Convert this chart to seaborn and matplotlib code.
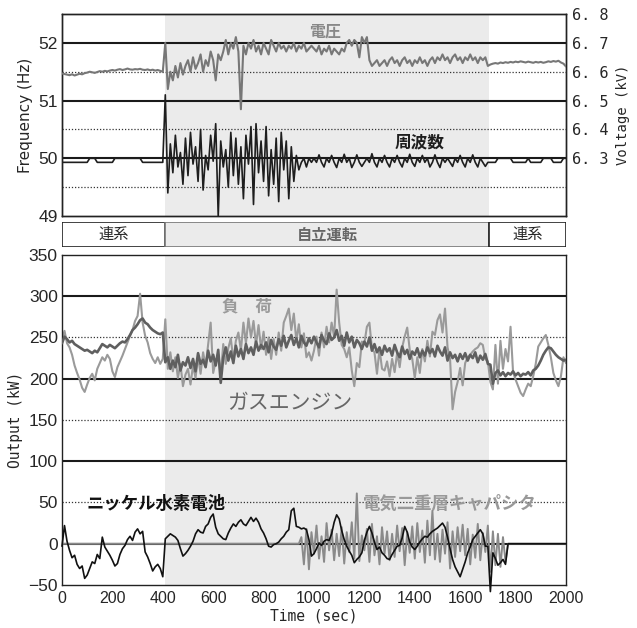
"""
自立運転試験の周波数・電圧・出力の推移
"""
import numpy as np
import matplotlib
matplotlib.use('Agg')
import matplotlib.pyplot as plt
import seaborn as sns
from matplotlib.patches import Rectangle

sns.set_style("white")
plt.rcParams['font.family'] = ['Noto Sans CJK JP', 'DejaVu Sans']

# 時刻 (10秒刻み)
time_sec = np.arange(0, 2001, 10)

# 自立運転の期間
island_start = 410
island_end = 1695

# 電圧 (kV)
voltage_kv = [
    6.594, 6.592, 6.590, 6.588, 6.591, 6.587, 6.590, 6.593, 6.591, 6.595,
    6.597, 6.600, 6.598, 6.596, 6.599, 6.602, 6.600, 6.603, 6.601, 6.604,
    6.606, 6.604, 6.607, 6.609, 6.606, 6.608, 6.611, 6.608, 6.607, 6.609,
    6.608, 6.610, 6.607, 6.606, 6.608, 6.605, 6.607, 6.604, 6.606, 6.603,
    6.600, 6.700, 6.540, 6.600, 6.570, 6.620, 6.580, 6.630, 6.590, 6.620,
    6.640, 6.600, 6.650, 6.610, 6.630, 6.660, 6.600, 6.640, 6.620, 6.670,
    6.640, 6.570, 6.660, 6.640, 6.670, 6.710, 6.660, 6.700, 6.680, 6.720,
    6.670, 6.470, 6.690, 6.660, 6.700, 6.680, 6.710, 6.670, 6.690, 6.660,
    6.700, 6.680, 6.660, 6.710, 6.690, 6.670, 6.700, 6.680, 6.690, 6.670,
    6.690, 6.680, 6.700, 6.670, 6.690, 6.680, 6.700, 6.670, 6.680, 6.690,
    6.680, 6.670, 6.690, 6.660, 6.680, 6.670, 6.690, 6.660, 6.680, 6.670,
    6.660, 6.680, 6.670, 6.700, 6.710, 6.690, 6.710, 6.700, 6.650, 6.720,
    6.700, 6.720, 6.640, 6.620, 6.630, 6.640, 6.620, 6.630, 6.640, 6.620,
    6.640, 6.650, 6.630, 6.640, 6.620, 6.640, 6.650, 6.630, 6.640, 6.620,
    6.640, 6.630, 6.650, 6.630, 6.640, 6.620, 6.640, 6.650, 6.630, 6.650,
    6.640, 6.660, 6.640, 6.650, 6.630, 6.650, 6.660, 6.640, 6.650, 6.630,
    6.650, 6.640, 6.660, 6.640, 6.650, 6.630, 6.650, 6.640, 6.650, 6.620,
    6.625, 6.628, 6.630, 6.628, 6.632, 6.630, 6.633, 6.631, 6.634, 6.632,
    6.635, 6.633, 6.636, 6.634, 6.632, 6.635, 6.633, 6.631, 6.634, 6.632,
    6.634, 6.631, 6.633, 6.636, 6.634, 6.637, 6.635, 6.638, 6.632, 6.628,
    6.618,
]

# 周波数 (Hz)
frequency_hz = [
    49.93, 49.93, 49.93, 49.93, 49.93, 49.93, 49.93, 49.93, 49.93, 49.93,
    49.93, 50.00, 50.00, 50.00, 49.93, 49.93, 49.93, 49.93, 49.93, 49.93,
    49.93, 50.00, 50.00, 50.00, 50.00, 50.00, 50.00, 50.00, 50.00, 50.00,
    50.00, 50.00, 49.93, 49.93, 49.93, 49.93, 49.93, 49.93, 49.93, 49.93,
    49.93, 51.10, 49.40, 50.25, 49.75, 50.40, 49.85, 50.10, 49.55, 50.35,
    49.70, 50.45, 49.90, 50.20, 49.60, 50.50, 49.45, 50.05, 49.80, 50.40,
    49.95, 50.60, 49.00, 50.30, 49.85, 50.15, 49.50, 50.45, 49.70, 50.35,
    49.55, 50.20, 49.30, 50.40, 49.90, 50.55, 49.20, 50.60, 49.75, 50.30,
    49.60, 50.55, 49.35, 50.15, 49.55, 50.35, 49.25, 50.45, 49.80, 50.30,
    49.30, 50.20, 49.60, 50.05, 49.80, 49.93, 50.00, 49.85, 50.00, 49.93,
    50.00, 49.93, 50.06, 49.93, 49.85, 50.00, 49.93, 50.05, 49.93, 49.84,
    50.00, 49.93, 50.07, 49.93, 50.00, 49.84, 49.93, 50.06, 49.93, 49.86,
    49.93, 50.00, 49.93, 50.08, 49.93, 49.85, 50.00, 49.93, 50.05, 49.93,
    49.85, 50.00, 49.93, 50.05, 49.93, 49.85, 50.00, 49.93, 50.07, 49.93,
    49.86, 50.00, 49.93, 50.05, 49.93, 50.00, 49.85, 49.93, 50.06, 49.93,
    49.84, 50.00, 49.93, 50.00, 49.93, 49.86, 50.00, 49.93, 50.05, 49.93,
    49.85, 50.00, 49.93, 50.06, 49.93, 49.85, 50.00, 49.93, 49.86, 49.93,
    49.93, 49.93, 49.93, 50.00, 50.00, 50.00, 50.00, 50.00, 50.00, 49.93,
    49.93, 49.93, 49.93, 49.93, 49.93, 50.00, 49.93, 49.93, 49.93, 49.93,
    49.93, 50.00, 50.00, 50.00, 50.00, 49.93, 49.93, 49.93, 49.93, 50.00,
    50.00,
]

# 負荷 (kW)
load_kw = [
    247, 258, 243, 238, 229, 216, 207, 199, 189, 184,
    193, 201, 206, 198, 212, 219, 226, 222, 229, 224,
    209, 202, 214, 221, 228, 236, 244, 252, 259, 270,
    276, 303, 268, 252, 244, 231, 224, 219, 226, 218,
    224, 272, 212, 232, 209, 226, 201, 218, 191, 205,
    212, 193, 216, 201, 227, 206, 232, 215, 242, 268,
    207, 221, 229, 204, 242, 218, 237, 249, 222, 246,
    256, 234, 268, 243, 273, 250, 270, 241, 265, 236,
    257, 229, 250, 224, 248, 229, 256, 234, 268, 276,
    285, 259, 279, 246, 266, 238, 255, 226, 232, 222,
    234, 251, 228, 256, 238, 263, 244, 268, 251, 308,
    268, 241, 236, 226, 238, 210, 191, 219, 214, 245,
    243, 263, 268, 236, 232, 206, 236, 212, 210, 221,
    203, 224, 208, 231, 214, 238, 251, 262, 235, 224,
    201, 226, 207, 236, 221, 246, 227, 257, 253, 271,
    278, 256, 285, 238, 224, 163, 184, 196, 213, 192,
    219, 226, 229, 233, 236, 238, 243, 241, 224, 221,
    196, 187, 241, 194, 246, 212, 236, 221, 263, 208,
    199, 191, 183, 179, 187, 194, 191, 203, 218, 239,
    244, 249, 253, 241, 226, 207, 198, 191, 203, 226,
    219,
]

# ガスエンジン出力 (kW)
gas_engine_kw = [
    243, 251, 248, 244, 246, 242, 240, 238, 236, 234,
    235, 233, 231, 234, 232, 237, 242, 240, 238, 241,
    239, 237, 240, 243, 245, 244, 248, 253, 259, 262,
    266, 271, 273, 268, 266, 262, 259, 257, 255, 254,
    256, 220, 226, 212, 222, 214, 229, 210, 220, 216,
    226, 213, 224, 209, 231, 218, 223, 214, 234, 221,
    229, 216, 235, 195, 226, 238, 222, 233, 219, 240,
    227, 236, 224, 242, 231, 238, 229, 245, 234, 241,
    236, 244, 232, 247, 239, 235, 248, 240, 252, 238,
    246, 253, 241, 249, 238, 252, 244, 240, 249, 243,
    251, 244, 238, 253, 246, 242, 255, 247, 250, 259,
    246, 252, 240, 256, 244, 251, 238, 247, 243, 236,
    245, 239, 250, 234, 242, 232, 238, 229, 240, 233,
    237, 228, 241, 232, 226, 239, 230, 235, 224, 233,
    229, 237, 226, 234, 228, 238, 231, 236, 227, 240,
    233, 228, 238, 222, 232, 225, 229, 221, 230, 224,
    231, 222, 229, 225, 232, 220, 228, 223, 230, 218,
    217, 194, 207, 210, 204, 208, 203, 207, 205, 209,
    204, 207, 203, 206, 205, 208, 204, 210, 212, 216,
    222, 229, 234, 238, 237, 233, 229, 226, 224, 222,
    223,
]

# ニッケル水素電池出力 (kW)
battery_kw = [
    -3, 22, 3, -8, -17, -14, -25, -30, -27, -42,
    -38, -30, -22, -24, -13, -18, 8, -4, -9, -14,
    -20, -27, -24, -13, -6, -2, 5, 9, 4, 14,
    18, 12, 15, -10, -16, -24, -33, -28, -25, -30,
    -40, 6, 9, 12, 10, 8, 4, -6, -15, -12,
    -8, -3, 3, 12, 17, 14, 13, 21, 24, 32,
    36, 20, 12, 9, 6, 5, 13, 19, 24, 21,
    26, 29, 24, 22, 27, 32, 27, 31, 26, 18,
    13, 6, -3, -4, -1, 0, 2, 6, 9, 14,
    17, 40, 43, 21, 20, 18, 19, 17, 5, -15,
    -12, -6, 1, -2, 3, 5, 4, 12, 26, 35,
    30, 16, 5, -3, -9, -14, -23, -19, -16, -11,
    4, 14, 21, 13, 2, -7, -4, -11, -14, -18,
    -19, -13, -8, -3, -2, 7, 21, 14, 2, -4,
    -7, -3, 2, 6, 9, 8, 12, 15, 17, 19,
    22, 25, 20, 8, -6, -19, -28, -34, -40, -31,
    -22, -11, -4, 5, 9, 13, 17, 12, -3, -3,
    -58, -11, -18, -26, -23, -19, -25, 0, 0, 0,
    0, 0, 0, 0, 0, 0, 0, 0, 0, 0,
    0, 0, 0, 0, 0, 0, 0, 0, 0, 0,
    0,
]

# 電気二重層キャパシタ出力 (kW)
capacitor_kw = [
    0, 0, 0, 0, 0, 0, 0, 0, 0, 0,
    0, 0, 0, 0, 0, 0, 0, 0, 0, 0,
    0, 0, 0, 0, 0, 0, 0, 0, 0, 0,
    0, 0, 0, 0, 0, 0, 0, 0, 0, 0,
    0, 0, 0, 0, 0, 0, 0, 0, 0, 0,
    0, 0, 0, 0, 0, 0, 0, 0, 0, 0,
    0, 0, 0, 0, 0, 0, 0, 0, 0, 0,
    0, 0, 0, 0, 0, 0, 0, 0, 0, 0,
    0, 0, 0, 0, 0, 0, 0, 0, 0, 0,
    0, 0, 0, 0, 0, 8, -25, 18, -31, 14,
    -12, 22, -18, 9, -22, 25, -8, 17, -20, 12,
    -15, 20, -24, 14, -10, 26, -18, 61, -21, 10,
    -8, 18, -22, 24, -14, 9, -25, 20, -12, 15,
    -20, 12, -16, 22, -9, 19, -26, 14, -11, 21,
    -18, 25, -10, 16, -23, 28, -14, 40, -19, 12,
    -22, 17, -12, 26, -30, 15, -16, 20, -9, 23,
    -14, 18, -25, 11, -17, 24, -20, 13, -10, 22,
    -34, 15, -26, 12, -28, 8, -22, 0, 0, 0,
    0, 0, 0, 0, 0, 0, 0, 0, 0, 0,
    0, 0, 0, 0, 0, 0, 0, 0, 0, 0,
    0,
]

freq_ticks = [49, 50, 51, 52]
volt_ticks = [6.3, 6.4, 6.5, 6.6, 6.7, 6.8]
volt_labels = ['6. 3', '6. 4', '6. 5', '6. 6', '6. 7', '6. 8']
out_ticks = [-50, 0, 50, 100, 150, 200, 250, 300, 350]
time_ticks = [0, 200, 400, 600, 800, 1000, 1200, 1400, 1600, 1800, 2000]

shade = '#ebebeb'
narrow = ['Liberation Sans Narrow', 'Liberation Sans', 'DejaVu Sans']
mono = ['DejaVu Sans Mono']
solid_kw = dict(color='#1a1a1a', lw=1.5, zorder=1)
dot_kw = dict(color='#333333', lw=0.9, ls=(0, (1, 1.5)), zorder=1)

fig = plt.figure(figsize=(6.37, 6.28), dpi=100)
left, width = 0.0973, 0.7912

# ---- 上段：周波数と電圧 ----
ax_f = fig.add_axes([left, 0.656, width, 0.3217])
ax_f.axvspan(island_start, island_end, color=shade, lw=0, zorder=0)
for y in [50, 51, 52]:
    ax_f.axhline(y, **solid_kw)
for y in [49.5, 50.5, 51.5]:
    ax_f.axhline(y, **dot_kw)
sns.lineplot(x=time_sec, y=frequency_hz, ax=ax_f, color='#1e1e1e', lw=1.2,
             estimator=None, zorder=3)
ax_f.set_xlim(0, 2000)
ax_f.set_ylim(49, 52.5)
ax_f.set_yticks(freq_ticks)
ax_f.set_yticklabels([str(v) for v in freq_ticks], family=narrow, fontsize=12.5)
ax_f.set_xticks([])
ax_f.set_xlabel('')
ax_f.set_ylabel('Frequency (Hz)', fontsize=11, family=['DejaVu Sans'], labelpad=4)
ax_f.tick_params(axis='y', length=0, pad=3)

ax_v = ax_f.twinx()
sns.lineplot(x=time_sec, y=voltage_kv, ax=ax_v, color='#777777', lw=1.5,
             estimator=None, zorder=3)
ax_v.set_ylim(6.1, 6.8)
ax_v.set_yticks(volt_ticks)
ax_v.set_yticklabels(volt_labels, family=mono, fontsize=11)
ax_v.set_ylabel('Voltage (kV)', fontsize=10, family=mono, labelpad=6)
ax_v.tick_params(axis='y', length=0, pad=4)
ax_v.set_xlim(0, 2000)
for ax in (ax_f, ax_v):
    for sp in ax.spines.values():
        sp.set_color('#222222')
        sp.set_linewidth(1.0)

ax_v.text(1045, 6.738, '電圧', color='#888888', fontsize=11.5,
          fontweight='bold', ha='center', va='center')
ax_f.text(1420, 50.27, '周波数', color='#1e1e1e', fontsize=12,
          fontweight='bold', ha='center', va='center', zorder=4)

# ---- 中段：運転モード ----
ax_m = fig.add_axes([left, 0.6067, width, 0.0398])
ax_m.set_xlim(0, 2000)
ax_m.set_ylim(0, 1)
ax_m.axis('off')
ax_m.add_patch(Rectangle((0, 0), island_start, 1, fc='white', ec='#222222', lw=1.2))
ax_m.add_patch(Rectangle((island_start, 0), island_end - island_start, 1,
                         fc=shade, ec='#777777', lw=1.2))
ax_m.add_patch(Rectangle((island_end, 0), 2000 - island_end, 1, fc='white',
                         ec='#222222', lw=1.2))
ax_m.text(island_start / 2, 0.5, '連系', ha='center', va='center', fontsize=11)
ax_m.text((island_start + island_end) / 2, 0.5, '自立運転', ha='center',
          va='center', fontsize=11, fontweight='bold', color='#666666')
ax_m.text((island_end + 2000) / 2, 0.5, '連系', ha='center', va='center', fontsize=11)

# ---- 下段：出力 ----
ax_o = fig.add_axes([left, 0.0685, width, 0.5255])
ax_o.axvspan(island_start, island_end, color=shade, lw=0, zorder=0)
for y in [0, 100, 200, 300]:
    ax_o.axhline(y, **solid_kw)
for y in [50, 150, 250]:
    ax_o.axhline(y, **dot_kw)
sns.lineplot(x=time_sec, y=load_kw, ax=ax_o, color='#9a9a9a', lw=1.5,
             estimator=None, zorder=2)
sns.lineplot(x=time_sec, y=gas_engine_kw, ax=ax_o, color='#5f5f5f', lw=1.9,
             estimator=None, zorder=3)
sns.lineplot(x=time_sec, y=capacitor_kw, ax=ax_o, color='#8a8a8a', lw=1.4,
             estimator=None, zorder=4)
sns.lineplot(x=time_sec, y=battery_kw, ax=ax_o, color='#111111', lw=1.2,
             estimator=None, zorder=5, clip_on=False)
ax_o.set_xlim(0, 2000)
ax_o.set_ylim(-50, 350)
ax_o.set_yticks(out_ticks)
ax_o.set_yticklabels(['\u221250'] + [str(v) for v in out_ticks[1:]],
                     family=narrow, fontsize=12.5)
ax_o.set_xticks(time_ticks)
ax_o.set_xticklabels([str(v) for v in time_ticks], family=narrow, fontsize=11.5)
ax_o.tick_params(axis='x', direction='in', length=4, width=1, pad=4)
ax_o.tick_params(axis='y', length=0, pad=3)
ax_o.set_xlabel('Time (sec)', fontsize=10.5, family=mono, labelpad=2)
ax_o.set_ylabel('Output (kW)', fontsize=10.5, family=mono, labelpad=4)
for sp in ax_o.spines.values():
    sp.set_color('#222222')
    sp.set_linewidth(1.0)

ax_o.text(735, 288, '負\u3000荷', color='#9a9a9a', fontsize=12,
          fontweight='bold', ha='center', va='center', zorder=6)
ax_o.text(905, 170, 'ガスエンジン', color='#666666', fontsize=15,
          ha='center', va='center', zorder=6)
ax_o.text(372, 48, 'ニッケル水素電池', color='#111111', fontsize=12.5,
          fontweight='bold', ha='center', va='center', zorder=6)
ax_o.text(1540, 48, '電気二重層キャパシタ', color='#999999', fontsize=12.5,
          fontweight='bold', ha='center', va='center', zorder=6)

fig.savefig('out.png', dpi=100)
